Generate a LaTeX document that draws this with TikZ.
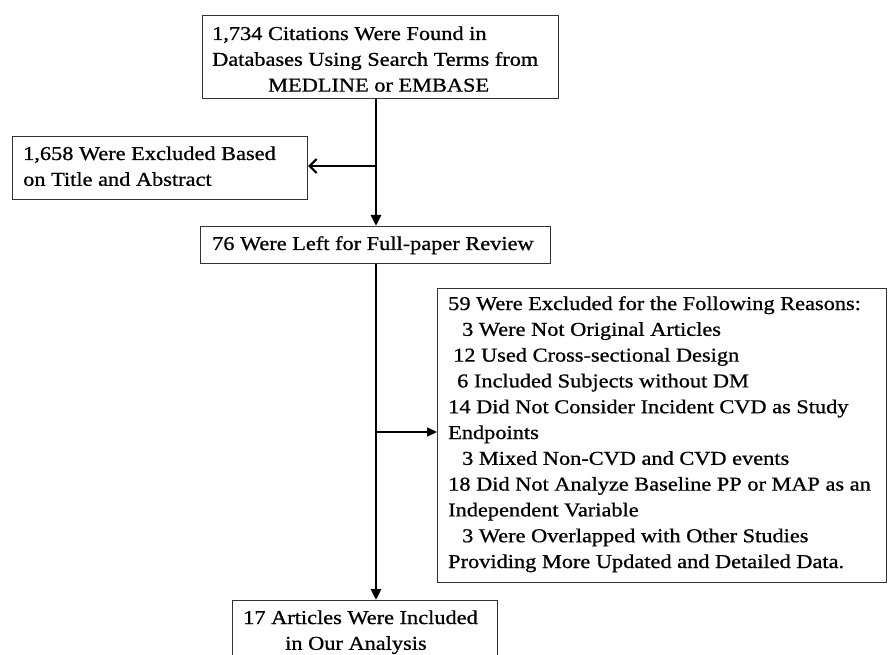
\documentclass[tikz,border=0pt]{standalone}
\usepackage{fontspec}
\setmainfont{Liberation Serif}[FakeStretch=1.14,FakeBold=0.8]
\usetikzlibrary{arrows.meta}
\begin{document}
\begin{tikzpicture}[x=1pt,y=-1pt,
  box/.style={draw=black!80,line width=1.1pt,rectangle,inner sep=0,anchor=north west},
  txt/.style={anchor=base west,inner sep=0,font=\fontsize{19.6pt}{25.8pt}\selectfont},
  vline/.style={line width=2.8pt,-{Triangle[length=11pt,width=10pt]}},
  hline/.style={line width=2pt,-{Triangle[length=10pt,width=9pt]}},
  barb/.style={line width=2pt,-{Straight Barb[length=7pt,width=14pt,line width=2.2pt]}}]
\useasboundingbox (0,0) rectangle (889,655);
% boxes
\node[box,minimum width=356pt,minimum height=83pt] (b1) at (202,15) {};
\node[box,minimum width=295pt,minimum height=63pt] (b2) at (12,136) {};
\node[box,minimum width=350pt,minimum height=37pt] (b3) at (200,226) {};
\node[box,minimum width=449pt,minimum height=294pt] (b4) at (437,288) {};
\node[box,minimum width=265pt,minimum height=64pt] (b5) at (232,600) {};
% texts
\node[txt] (t1) at (212,40) {\vtop{\hbox{1,734 Citations Were Found in}\hbox{Databases Using Search Terms from}\hbox{\hspace*{56pt}MEDLINE or EMBASE}}};
\node[txt] (t2) at (23,160) {\vtop{\hbox{1,658 Were Excluded Based}\hbox{on Title and Abstract}}};
\node[txt] (t3) at (212,250) {76 Were Left for Full-paper Review};
\node[txt] (t4) at (448,310) {\vtop{%
\hbox{59 Were Excluded for the Following Reasons:}%
\hbox{\hspace*{14pt}3 Were Not Original Articles}%
\hbox{\hspace*{5pt}12 Used Cross-sectional Design}%
\hbox{\hspace*{9pt}6 Included Subjects without DM}%
\hbox{14 Did Not Consider Incident CVD as Study}%
\hbox{Endpoints}%
\hbox{\hspace*{14pt}3 Mixed Non-CVD and CVD events}%
\hbox{18 Did Not Analyze Baseline PP or MAP as an}%
\hbox{Independent Variable}%
\hbox{\hspace*{14pt}3 Were Overlapped with Other Studies}%
\hbox{Providing More Updated and Detailed Data.}}};
\node[txt] (t5) at (243,624) {\vtop{\hbox{17 Articles Were Included}\hbox{\hspace*{42pt}in Our Analysis}}};
% junctions
\coordinate (j1) at (376,166);
\coordinate (j2) at (376,432);
% connectors
\draw[vline] (b1.south -| j1) -- (b3.north -| j1);
\draw[barb] (j1) -- (b2.east |- j1);
\draw[vline] (b3.south -| j2) -- (b5.north -| j2);
\draw[hline] (j2) -- (b4.west |- j2);
\end{tikzpicture}
\end{document}
